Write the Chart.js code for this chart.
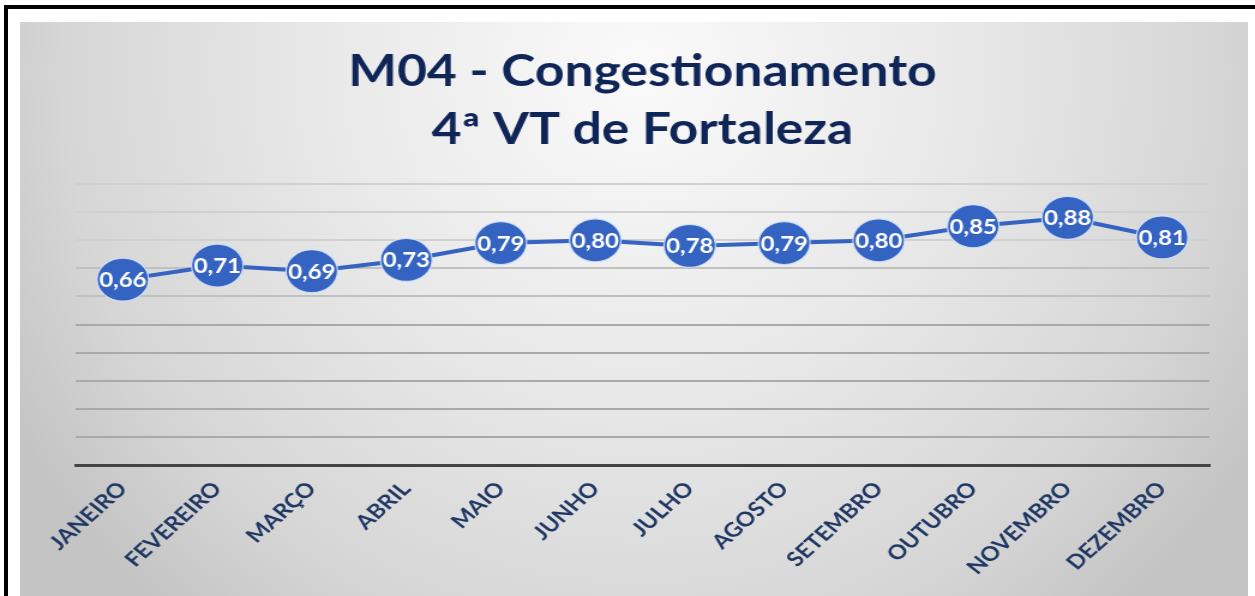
<!DOCTYPE html>
<html>
<head>
<meta charset="utf-8">
<script src="https://cdn.jsdelivr.net/npm/chart.js@4.4.0/dist/chart.umd.min.js"></script>
<style>
  html, body { margin: 0; padding: 0; background: #fff; overflow: hidden; }
  #moldura { position: absolute; left: 4px; top: 5px; width: 1251px; height: 591px;
             border-left: 4px solid #000; border-top: 4px solid #000; box-sizing: border-box; }
  #fundo { position: absolute; left: 20px; top: 22px; width: 1228px; height: 574px;
           background: radial-gradient(circle 720px at 620px 48px, #fafafa 0%, #e8e8e8 45%, #d6d6d6 80%, #c4c4c4 100%); }
  /* a imagem original foi esticada na horizontal */
  #wrap { position: absolute; left: 0; top: 0; width: 1046px; height: 596px;
          transform: scaleX(1.1998); transform-origin: 0 0; }
</style>
</head>
<body>
<div id="moldura"></div>
<div id="fundo"></div>
<div id="wrap"><canvas id="grafico" width="1046" height="596"></canvas></div>
<script>
const meses = ["JANEIRO", "FEVEREIRO", "MARÇO", "ABRIL", "MAIO", "JUNHO", "JULHO", "AGOSTO", "SETEMBRO", "OUTUBRO", "NOVEMBRO", "DEZEMBRO"];
const congestionamento = [0.66, 0.71, 0.69, 0.73, 0.79, 0.80, 0.78, 0.79, 0.80, 0.85, 0.88, 0.81];
const titulo = ["M04 - Congestionamento", "4ª VT de Fortaleza"];

const azul = '#3463c2';

const rotulos = {
  id: 'rotulos',
  afterDatasetsDraw(chart) {
    const ctx = chart.ctx;
    const meta = chart.getDatasetMeta(0);
    ctx.save();
    ctx.font = 'bold 20px Lato';
    ctx.fillStyle = '#fff';
    ctx.textAlign = 'center';
    ctx.textBaseline = 'middle';
    meta.data.forEach((p, i) => {
      ctx.fillText(congestionamento[i].toFixed(2).replace('.', ','), p.x, p.y + 1);
    });
    ctx.restore();
  }
};

// linhas de grade mais claras em cima
function corGrade(c) {
  const v = c.tick ? c.tick.value : 0;
  if (v >= 0.75) return '#d0d0d0';
  if (v >= 0.55) return '#c0c0c0';
  return '#a9a9a9';
}

new Chart('grafico', {
  type: 'line',
  data: {
    labels: meses,
    datasets: [{
      data: congestionamento,
      borderColor: azul,
      borderWidth: 4,
      pointBackgroundColor: azul,
      pointBorderColor: 'rgba(210,225,250,0.9)',
      pointBorderWidth: 1.2,
      pointRadius: 21.5,
      pointHoverRadius: 21.5,
      tension: 0
    }]
  },
  options: {
    responsive: false,
    animation: false,
    layout: { padding: { top: 22, left: 63, right: 38, bottom: 0 } },
    plugins: {
      legend: { display: false },
      tooltip: { enabled: false },
      title: {
        display: true,
        text: titulo,
        color: '#0f2557',
        font: { family: 'Lato', size: 43, weight: 'bold', lineHeight: 1.35 },
        padding: { top: 21, bottom: 25 }
      }
    },
    scales: {
      x: {
        offset: true,
        grid: { display: false },
        border: { color: '#444', width: 3 },
        ticks: {
          color: '#1f3763',
          font: { family: 'Lato', size: 20, weight: 'bold' },
          minRotation: 47,
          maxRotation: 47,
          padding: 4
        },
        afterFit(scale) { scale.height = 131; }
      },
      y: {
        min: 0,
        max: 1,
        ticks: { stepSize: 0.1, display: false },
        border: { display: false },
        grid: { color: corGrade, lineWidth: 2, drawTicks: false }
      }
    }
  },
  plugins: [rotulos]
});
</script>
</body>
</html>
